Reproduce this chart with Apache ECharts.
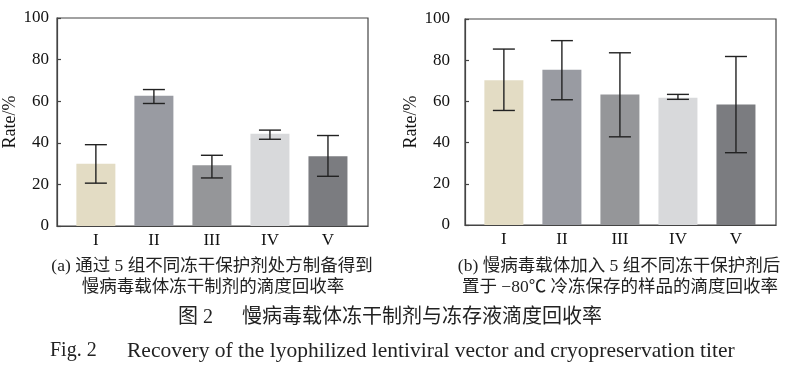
<!DOCTYPE html>
<html>
<head>
<meta charset="utf-8">
<script src="https://cdn.jsdelivr.net/npm/echarts@6/dist/echarts.min.js"></script>
<style>
html,body{margin:0;padding:0;background:#fff;}
#chart{width:789px;height:367px;}
</style>
</head>
<body>
<div id="chart"></div>
<script>
// ---- data ----
var categories = ['I', 'II', 'III', 'IV', 'V'];
var catPos = [1, 2, 3, 4, 5];
var leftRate = [29.9, 62.6, 29.2, 44.4, 33.5];
var leftLow = [20.6, 58.9, 23.1, 41.7, 23.9];
var leftHigh = [39.1, 65.6, 34.0, 46.1, 43.5];
var rightRate = [70.3, 75.4, 63.4, 61.8, 58.5];
var rightLow = [55.6, 60.8, 42.8, 61.0, 35.1];
var rightHigh = [85.4, 89.5, 83.6, 63.4, 81.8];
var yTicks = [0, 20, 40, 60, 80, 100];
var barColors = ['#e3dcc4', '#999ba2', '#959699', '#d8d9db', '#7b7c80'];

var serif = '"Liberation Serif", "Times New Roman", serif';
var cjk = '"Liberation Serif", "Noto Sans CJK SC", serif';

function xAxis(gridIndex) {
  return {
    type: 'value', gridIndex: gridIndex, min: 0.33, max: 5.69,
    axisLine: {show: true, onZero: false, lineStyle: {color: '#444', width: 1.2}},
    axisTick: {show: true, inside: true, length: 4, customValues: catPos, lineStyle: {color: '#444', width: 1.2}},
    axisLabel: {
      customValues: catPos, margin: 6, color: '#111', fontFamily: serif, fontSize: 17,
      formatter: function (v) { var i = Math.round(v) - 1; return categories[i] || ''; }
    },
    splitLine: {show: false}
  };
}
function yAxis(gridIndex, labelMargin, nameGap) {
  return {
    type: 'value', gridIndex: gridIndex, min: yTicks[0], max: yTicks[yTicks.length - 1], interval: 20,
    name: 'Rate/%', nameLocation: 'middle', nameGap: nameGap, nameRotate: 90,
    nameTextStyle: {fontFamily: serif, fontSize: 18, color: '#111'},
    axisLine: {show: true, lineStyle: {color: '#444', width: 1.2}},
    axisTick: {show: true, inside: true, length: 4, lineStyle: {color: '#444', width: 1.2}},
    axisLabel: {margin: labelMargin, color: '#111', fontFamily: serif, fontSize: 17},
    splitLine: {show: false}
  };
}
function barSeries(idx, vals) {
  return {
    type: 'bar', xAxisIndex: idx, yAxisIndex: idx, barWidth: 39,
    data: vals.map(function (v, i) {
      return {value: [catPos[i], v], itemStyle: {color: barColors[i]}};
    }),
    z: 2
  };
}
function errSeries(idx, lows, highs) {
  return {
    type: 'custom', xAxisIndex: idx, yAxisIndex: idx, z: 5,
    data: lows.map(function (l, i) { return [catPos[i], l, highs[i]]; }),
    renderItem: function (params, api) {
      var lo = api.coord([api.value(0), api.value(1)]);
      var hi = api.coord([api.value(0), api.value(2)]);
      var hw = 11;
      var st = {stroke: '#222', lineWidth: 1.4};
      return {
        type: 'group',
        children: [
          {type: 'line', shape: {x1: lo[0], y1: lo[1], x2: hi[0], y2: hi[1]}, style: st},
          {type: 'line', shape: {x1: lo[0] - hw, y1: lo[1], x2: lo[0] + hw, y2: lo[1]}, style: st},
          {type: 'line', shape: {x1: hi[0] - hw, y1: hi[1], x2: hi[0] + hw, y2: hi[1]}, style: st}
        ]
      };
    }
  };
}

var chart = echarts.init(document.getElementById('chart'), null, {renderer: 'canvas'});
chart.setOption({
  backgroundColor: '#fff',
  animation: false,
  grid: [
    {left: 57, top: 18, width: 311, height: 208, show: true, borderColor: '#444', borderWidth: 1.2, backgroundColor: 'transparent'},
    {left: 465, top: 19, width: 311, height: 206, show: true, borderColor: '#444', borderWidth: 1.2, backgroundColor: 'transparent'}
  ],
  xAxis: [xAxis(0), xAxis(1)],
  yAxis: [yAxis(0, 8, 33), yAxis(1, 15, 40)],
  series: [
    barSeries(0, leftRate), errSeries(0, leftLow, leftHigh),
    barSeries(1, rightRate), errSeries(1, rightLow, rightHigh)
  ],
  graphic: [
    {type: 'text', x: 212, y: 266, style: {text: '(a) 通过 5 组不同冻干保护剂处方制备得到', font: '17.5px ' + cjk, fill: '#222', textAlign: 'center', textVerticalAlign: 'middle'}},
    {type: 'text', x: 213, y: 287, style: {text: '慢病毒载体冻干制剂的滴度回收率', font: '17.5px ' + cjk, fill: '#222', textAlign: 'center', textVerticalAlign: 'middle'}},
    {type: 'text', x: 619, y: 266, style: {text: '(b) 慢病毒载体加入 5 组不同冻干保护剂后', font: '17.5px ' + cjk, fill: '#222', textAlign: 'center', textVerticalAlign: 'middle'}},
    {type: 'text', x: 620, y: 287, style: {text: '置于 −80℃ 冷冻保存的样品的滴度回收率', font: '17.5px ' + cjk, fill: '#222', textAlign: 'center', textVerticalAlign: 'middle'}},
    {type: 'text', x: 178, y: 318, style: {text: '图 2', font: '20px ' + cjk, fill: '#222', textAlign: 'left', textVerticalAlign: 'middle'}},
    {type: 'text', x: 242, y: 318, style: {text: '慢病毒载体冻干制剂与冻存液滴度回收率', font: '20px ' + cjk, fill: '#222', textAlign: 'left', textVerticalAlign: 'middle'}},
    {type: 'text', x: 50, y: 351, style: {text: 'Fig. 2', font: '20px ' + serif, fill: '#222', textAlign: 'left', textVerticalAlign: 'middle'}},
    {type: 'text', x: 127, y: 351, style: {text: 'Recovery of the lyophilized lentiviral vector and cryopreservation titer', font: '21.5px ' + serif, fill: '#222', textAlign: 'left', textVerticalAlign: 'middle'}}
  ]
});
</script>
</body>
</html>
